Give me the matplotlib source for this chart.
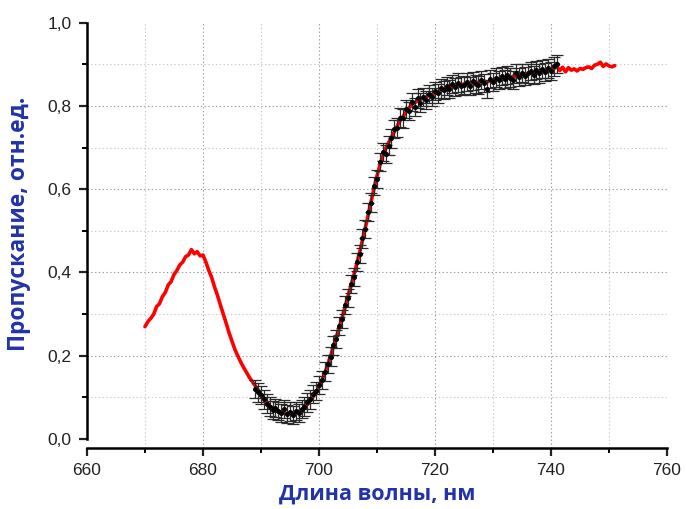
import numpy as np
import matplotlib
matplotlib.use("Agg")
import matplotlib.pyplot as plt
from matplotlib.ticker import MultipleLocator, FuncFormatter

# Red spectrum (0.5 nm step starting at 670 nm)
red_start = 670.0
red_step = 0.5
red_y = [
    0.270, 0.282, 0.290, 0.300, 0.318, 0.325, 0.342, 0.352, 0.370, 0.378,
    0.395, 0.405, 0.418, 0.425, 0.438, 0.442, 0.455, 0.445, 0.450, 0.440,
    0.442, 0.425, 0.405, 0.388, 0.365, 0.345, 0.322, 0.300, 0.278, 0.255,
    0.235, 0.215, 0.200, 0.185, 0.172, 0.160, 0.148, 0.138, 0.128, 0.118,
    0.108, 0.098, 0.088, 0.080, 0.074, 0.070, 0.066, 0.064, 0.062, 0.061,
    0.061, 0.062, 0.063, 0.066, 0.070, 0.076, 0.083, 0.092, 0.102, 0.113,
    0.125, 0.140, 0.158, 0.178, 0.200, 0.222, 0.245, 0.268, 0.292, 0.318,
    0.343, 0.368, 0.393, 0.420, 0.448, 0.478, 0.508, 0.540, 0.572, 0.603,
    0.632, 0.658, 0.680, 0.698, 0.712, 0.725, 0.738, 0.752, 0.765, 0.775,
    0.785, 0.795, 0.803, 0.808, 0.812, 0.816, 0.818, 0.822, 0.825, 0.827,
    0.830, 0.833, 0.836, 0.840, 0.843, 0.845, 0.848, 0.850, 0.852, 0.850,
    0.853, 0.855, 0.852, 0.856, 0.858, 0.855, 0.858, 0.860, 0.857, 0.862,
    0.860, 0.864, 0.866, 0.862, 0.868, 0.870, 0.866, 0.872, 0.870, 0.875,
    0.872, 0.877, 0.875, 0.880, 0.877, 0.882, 0.880, 0.884, 0.882, 0.887,
    0.885, 0.890, 0.895, 0.885, 0.893, 0.882, 0.892, 0.886, 0.889, 0.884,
    0.890, 0.888, 0.892, 0.894, 0.890, 0.898, 0.900, 0.905, 0.895, 0.901,
    0.896, 0.894, 0.897,
]

# Black measured points with error bars (0.5 nm step starting at 689 nm)
pts_start = 689.0
pts_step = 0.5
pts_y = [
    0.120, 0.112, 0.105, 0.095, 0.085, 0.078, 0.070, 0.075, 0.068, 0.062,
    0.072, 0.060, 0.066, 0.058, 0.068, 0.062, 0.072, 0.078, 0.088, 0.095,
    0.108, 0.115, 0.130, 0.142, 0.162, 0.180, 0.198, 0.225, 0.240, 0.272,
    0.288, 0.322, 0.338, 0.372, 0.390, 0.425, 0.445, 0.482, 0.505, 0.545,
    0.568, 0.608, 0.625, 0.665, 0.690, 0.685, 0.705, 0.722, 0.745, 0.748,
    0.772, 0.770, 0.792, 0.788, 0.810, 0.798, 0.818, 0.808, 0.822, 0.815,
    0.828, 0.822, 0.836, 0.830, 0.842, 0.838, 0.848, 0.840, 0.852, 0.846,
    0.856, 0.848, 0.850, 0.858, 0.848, 0.860, 0.852, 0.850, 0.862, 0.855,
    0.840, 0.864, 0.858, 0.868, 0.862, 0.872, 0.865, 0.875, 0.868, 0.862,
    0.878, 0.870, 0.880, 0.872, 0.878, 0.884, 0.875, 0.886, 0.878, 0.888,
    0.882, 0.890, 0.884, 0.895, 0.900,
]
pts_err = 0.022

x_label = "Длина волны, нм"
y_label = "Пропускание, отн.ед."

red_x = red_start + red_step * np.arange(len(red_y))
pts_x = pts_start + pts_step * np.arange(len(pts_y))

fig = plt.figure(figsize=(6.86, 5.09), dpi=100)
ax = fig.add_axes([0.1268, 0.1198, 0.9723 - 0.1268, 0.9554 - 0.1198])

ax.plot(red_x, red_y, color="#ff0000", lw=2.6, zorder=3,
        solid_joinstyle="round", solid_capstyle="round")
ax.errorbar(pts_x, pts_y, yerr=pts_err, fmt="o", ms=2.6, color="black",
            ecolor="#2a2a2a", elinewidth=0.9, capsize=4.0, capthick=0.9,
            zorder=4)

ax.set_xlim(660, 760)
ax.set_ylim(-0.0216, 1.0)

ax.xaxis.set_major_locator(MultipleLocator(20))
ax.xaxis.set_minor_locator(MultipleLocator(10))
ax.yaxis.set_major_locator(MultipleLocator(0.2))
ax.yaxis.set_minor_locator(MultipleLocator(0.1))
ax.yaxis.set_major_formatter(FuncFormatter(lambda v, p: f"{v:.1f}".replace(".", ",")))

for s in ("top", "right"):
    ax.spines[s].set_visible(False)
for s in ("left", "bottom"):
    ax.spines[s].set_linewidth(1.8)
ax.spines["left"].set_bounds(0.0, 1.0)

ax.tick_params(which="major", direction="out", length=6, width=1.6,
               labelsize=12.5, colors="#222222", pad=5)
ax.tick_params(which="minor", direction="out", length=3.5, width=1.4)
for lab in ax.get_xticklabels() + ax.get_yticklabels():
    lab.set_family("Liberation Sans")

ax.grid(True, which="major", linestyle=(0, (1.2, 2.2)), color="#999999", lw=0.8)
ax.grid(True, which="minor", linestyle=(0, (1.2, 2.2)), color="#c8c8c8", lw=0.8)
fig.canvas.draw()
for gl, v in zip(ax.get_ygridlines(), ax.get_yticks()):
    if abs(v - 1.0) < 1e-6 or abs(v) < 1e-6:
        gl.set_visible(False)
for gl, v in zip(ax.get_xgridlines(), ax.get_xticks()):
    if abs(v - 760) < 1e-6 or abs(v - 660) < 1e-6:
        gl.set_visible(False)
ax.set_axisbelow(True)

ax.set_xlabel(x_label, fontsize=15.5, fontweight="bold", color="#2233aa",
              family="Open Sans", labelpad=4)
ax.set_ylabel(y_label, fontsize=16.5, fontweight="bold", color="#2233aa",
              family="Open Sans")
ax.yaxis.set_label_coords(-0.097, 0.527)

fig.savefig("out.png", dpi=100, facecolor="white")
